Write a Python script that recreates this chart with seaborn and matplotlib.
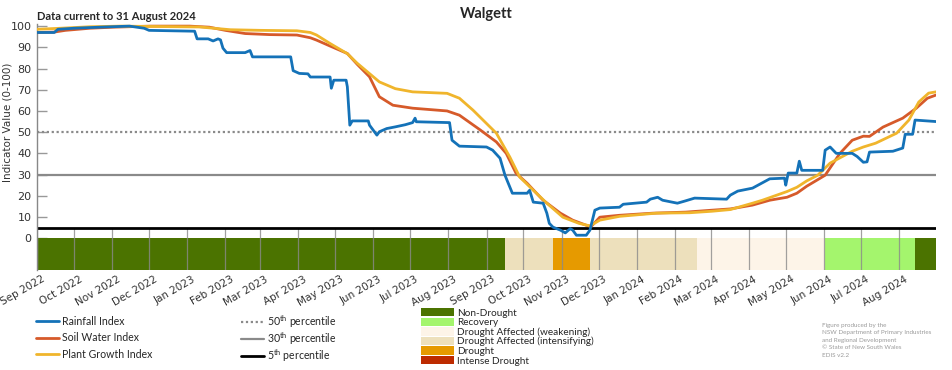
import matplotlib
matplotlib.use('Agg')
import matplotlib.pyplot as plt
import matplotlib.dates as mdates
import matplotlib.transforms as mtransforms
from matplotlib.lines import Line2D
from matplotlib.patches import Patch
import seaborn as sns
import pandas as pd

# Rainfall Index
rain_dates = ["2022-09-01", "2022-09-15", "2022-09-18", "2022-10-01", "2022-10-22", "2022-11-15",
              "2022-11-27", "2022-12-01", "2023-01-07", "2023-01-09", "2023-01-18", "2023-01-22",
              "2023-01-26", "2023-01-28", "2023-01-30", "2023-02-02", "2023-02-17", "2023-02-21",
              "2023-02-23", "2023-03-26", "2023-03-28", "2023-04-02", "2023-04-09", "2023-04-11",
              "2023-04-27", "2023-04-28", "2023-04-30", "2023-05-10", "2023-05-11", "2023-05-13",
              "2023-05-15", "2023-05-28", "2023-05-29", "2023-06-04", "2023-06-06", "2023-06-12",
              "2023-06-19", "2023-06-27", "2023-07-03", "2023-07-05", "2023-07-06", "2023-08-02",
              "2023-08-04", "2023-08-10", "2023-09-01", "2023-09-06", "2023-09-12", "2023-09-16",
              "2023-09-22", "2023-10-04", "2023-10-06", "2023-10-09", "2023-10-17", "2023-10-20",
              "2023-10-22", "2023-10-25", "2023-10-31", "2023-11-04", "2023-11-08", "2023-11-10",
              "2023-11-13", "2023-11-21", "2023-11-24", "2023-11-28", "2023-12-02", "2023-12-18",
              "2023-12-21", "2024-01-09", "2024-01-12", "2024-01-18", "2024-01-22", "2024-02-03",
              "2024-02-09", "2024-02-17", "2024-03-14", "2024-03-17", "2024-03-23", "2024-04-04",
              "2024-04-18", "2024-04-30", "2024-05-01", "2024-05-03", "2024-05-10", "2024-05-12",
              "2024-05-14", "2024-05-31", "2024-06-02", "2024-06-06", "2024-06-11", "2024-06-24",
              "2024-06-28", "2024-07-03", "2024-07-06", "2024-07-08", "2024-07-27", "2024-08-04",
              "2024-08-06", "2024-08-12", "2024-08-14", "2024-08-31"]
rain_vals = [97, 97, 98.5, 99, 99.5, 100, 99, 98, 97.6, 94, 94, 93, 94, 93.5, 89.6, 87.5, 87.5, 88.5,
             85.5, 85.5, 79, 77.7, 77.5, 76, 76, 70.7, 74.5, 74.5, 71.4, 53.3, 55.3, 55.3, 53.3, 48.6,
             50.2, 51.7, 52.5, 53.5, 54.5, 56.6, 54.9, 54.5, 46.2, 43.4, 43, 41.5, 37.7, 29.7, 21.2,
             21.2, 22.6, 17, 16.5, 11.8, 7, 5.2, 3.8, 2.5, 4.5, 3.8, 1.4, 1.4, 3.8, 13.2, 14.2, 14.6,
             16, 17, 18.4, 19.3, 17.9, 16.5, 17.5, 18.9, 18.4, 20.3, 22.2, 23.6, 28, 28.3, 25, 30.7,
             30.7, 36.3, 32, 32, 41.5, 43, 40, 40, 38.5, 35.8, 36, 40.6, 41, 42.5, 49, 49, 55.7, 55]

# Soil Water Index
soil_dates = ["2022-09-01", "2022-09-15", "2022-09-24", "2022-10-14", "2022-11-02", "2022-12-02",
              "2023-01-03", "2023-01-19", "2023-02-01", "2023-02-17", "2023-03-09", "2023-03-31",
              "2023-04-11", "2023-04-16", "2023-04-27", "2023-05-11", "2023-05-19", "2023-05-29",
              "2023-06-06", "2023-06-17", "2023-07-03", "2023-07-31", "2023-08-10", "2023-08-27",
              "2023-09-09", "2023-09-17", "2023-09-25", "2023-10-04", "2023-10-17", "2023-10-31",
              "2023-11-10", "2023-11-21", "2023-11-25", "2023-12-02", "2023-12-18", "2024-01-14",
              "2024-02-10", "2024-03-02", "2024-03-17", "2024-04-04", "2024-04-18", "2024-05-02",
              "2024-05-10", "2024-05-18", "2024-05-29", "2024-06-02", "2024-06-14", "2024-06-24",
              "2024-07-03", "2024-07-08", "2024-07-19", "2024-08-04", "2024-08-15", "2024-08-24",
              "2024-08-31"]
soil_vals = [97, 97.2, 98, 99, 99.5, 100, 100, 99.5, 98, 96.5, 96, 95.8, 94.5, 93.4, 90.6, 87.1, 82,
             76.1, 66.7, 62.7, 61.3, 60, 58, 51, 45.4, 40, 30.6, 25.9, 17.9, 11.8, 8.5, 6.1, 5.5, 9.9,
             10.8, 11.8, 12.3, 13.2, 13.8, 15.6, 17.9, 19.3, 21.2, 24.5, 28.3, 29.7, 40, 46.2, 48.1,
             48, 52.4, 56.6, 61.3, 66, 67.5]

# Plant Growth Index
plant_dates = ["2022-09-01", "2022-09-20", "2022-10-14", "2022-11-08", "2023-01-11", "2023-02-05",
               "2023-03-02", "2023-03-31", "2023-04-11", "2023-04-16", "2023-04-27", "2023-05-11",
               "2023-05-19", "2023-06-06", "2023-06-19", "2023-07-03", "2023-07-31", "2023-08-10",
               "2023-08-21", "2023-09-09", "2023-09-20", "2023-09-28", "2023-10-09", "2023-10-20",
               "2023-11-02", "2023-11-15", "2023-11-24", "2023-12-02", "2023-12-18", "2024-01-17",
               "2024-02-13", "2024-03-02", "2024-03-17", "2024-04-04", "2024-04-12", "2024-05-02",
               "2024-05-10", "2024-05-18", "2024-05-27", "2024-06-06", "2024-06-24", "2024-07-03",
               "2024-07-13", "2024-07-30", "2024-08-09", "2024-08-17", "2024-08-25", "2024-08-31"]
plant_vals = [98.5, 99, 99.7, 100, 99.6, 98.3, 98, 97.8, 97, 95.8, 91.8, 87, 82.5, 73.7, 70.5, 69,
              68.3, 66, 60.4, 49.5, 38.2, 28.8, 22.6, 16.5, 9.9, 7, 5.8, 8.5, 10.3, 11.8, 12, 12.7,
              13.5, 16.5, 17.9, 22, 24, 27, 29.7, 35.4, 41, 43, 44.8, 49.5, 55.7, 64.2, 68.4, 69]

# drought category band
band_starts = ["2022-09-01", "2023-09-16", "2023-10-25", "2023-11-24", "2024-02-19", "2024-06-02", "2024-08-14"]
band_ends = ["2023-09-16", "2023-10-25", "2023-11-24", "2024-02-19", "2024-06-02", "2024-08-14", "2024-09-01"]
band_states = ["Non-Drought", "Drought Affected (intensifying)", "Drought",
               "Drought Affected (intensifying)", "Drought Affected (weakening)", "Recovery", "Non-Drought"]

state_names = ["Non-Drought", "Recovery", "Drought Affected (weakening)",
               "Drought Affected (intensifying)", "Drought", "Intense Drought"]
state_colors = ["#4b7300", "#a4f56d", "#fdf4e8", "#ede0bc", "#e69a00", "#bd2b00"]

series_names = ["Rainfall Index", "Soil Water Index", "Plant Growth Index"]
series_colors = ["#1472b8", "#d65a2a", "#f0b52c"]

pct_levels = [50, 30, 5]
pct_labels = [r"50$^{\mathrm{th}}$ percentile", r"30$^{\mathrm{th}}$ percentile", r"5$^{\mathrm{th}}$ percentile"]

sns.set_theme(style="white")
plt.rcParams['font.family'] = ['DejaVu Sans']
plt.rcParams['mathtext.fontset'] = 'custom'
plt.rcParams['mathtext.rm'] = 'Lato'

fig = plt.figure(figsize=(9.52, 3.70), dpi=100)
ax = fig.add_axes([37 / 952, 1 - 270 / 370, 899 / 952, 246 / 370])

# band
color_map = dict(zip(state_names, state_colors))
for s, e, st in zip(band_starts, band_ends, band_states):
    s, e = pd.Timestamp(s), pd.Timestamp(e)
    ax.bar(s, 15, bottom=-15, width=(e - s).days, align='edge', color=color_map[st], linewidth=0, zorder=1)

months = pd.date_range("2022-09-01", "2024-08-01", freq="MS")
ax.vlines(months, -15, 5, color="#8a8a8a", lw=0.9, alpha=0.8, zorder=2)

# percentile lines
ax.axhline(pct_levels[0], color="#8a8a8a", lw=1.6, ls=(0, (1, 1.2)), zorder=2)
ax.axhline(pct_levels[1], color="#8a8a8a", lw=1.6, zorder=2)
ax.axhline(pct_levels[2], color="black", lw=2.0, zorder=2)

# index lines
for name, d, v, c in [(series_names[0], rain_dates, rain_vals, series_colors[0]),
                      (series_names[1], soil_dates, soil_vals, series_colors[1]),
                      (series_names[2], plant_dates, plant_vals, series_colors[2])]:
    df = pd.DataFrame({"date": pd.to_datetime(d), "value": v})
    sns.lineplot(data=df, x="date", y="value", ax=ax, color=c, lw=2.0, estimator=None, zorder=4)
# blue on top
ax.lines[-3].set_zorder(5)

ax.set_xlim(pd.Timestamp("2022-09-01"), pd.Timestamp("2024-08-31"))
ax.set_ylim(-15, 101)
ax.set_yticks(range(0, 101, 10))
ax.set_yticks([-7.5], minor=True)
ax.tick_params(axis='y', which='both', direction='in', length=7, width=1, color="#999999",
               labelsize=8, labelcolor="#333333", pad=4, left=True)
ax.set_xticks(months)
ax.xaxis.set_major_formatter(mdates.DateFormatter("%b %Y"))
ax.tick_params(axis='x', length=0, labelsize=7.5, labelcolor="#333333", pad=3)
shift = mtransforms.ScaledTranslation(5 / 100, 0, fig.dpi_scale_trans)
for lbl in ax.get_xticklabels():
    lbl.set_rotation(30)
    lbl.set_ha('right')
    lbl.set_rotation_mode('anchor')
    lbl.set_transform(lbl.get_transform() + shift)
ax.set_xlabel("")
ax.set_ylabel("Indicator Value (0-100)", fontsize=7.5, color="#333333")
ax.yaxis.set_label_coords(-0.027, 0.6)
for sp in ["top", "right", "bottom"]:
    ax.spines[sp].set_visible(False)
ax.spines["left"].set_color("#888888")
ax.spines["left"].set_linewidth(1)
ax.grid(False)

fig.text(486.5 / 952, 1 - 14 / 370, "Walgett", ha='center', va='center', fontsize=10.5,
         fontweight='bold', family=['Lato', 'DejaVu Sans'])
fig.text(37 / 952, 1 - 17 / 370, "Data current to 31 August 2024", ha='left', va='center',
         fontsize=8, fontweight='bold', family=['Lato', 'DejaVu Sans'])

leg_font = {"family": "Lato", "size": 7.6}
h1 = [Line2D([], [], color=c, lw=2) for c in series_colors]
fig.legend(h1, series_names, loc='upper left', bbox_to_anchor=(36 / 952, 1 - 316 / 370),
           frameon=False, prop=leg_font, handlelength=2.2, handletextpad=0.25,
           labelspacing=0.5, borderpad=0, borderaxespad=0)

h2 = [Line2D([], [], color="#8a8a8a", lw=1.6, ls=(0, (1, 1.2))),
      Line2D([], [], color="#8a8a8a", lw=1.6),
      Line2D([], [], color="black", lw=2)]
fig.legend(h2, pct_labels, loc='upper left', bbox_to_anchor=(241 / 952, 1 - 313 / 370),
           frameon=False, prop=leg_font, handlelength=2.2, handletextpad=0.25,
           labelspacing=0.05, borderpad=0, borderaxespad=0)

h3 = [Patch(facecolor=c, edgecolor='none') for c in state_colors]
fig.legend(h3, state_names, loc='upper left', bbox_to_anchor=(421 / 952, 1 - 308 / 370),
           frameon=False, prop={"family": "Lato", "size": 7.2}, handlelength=3.3, handleheight=0.9,
           handletextpad=0.3, labelspacing=0.0, borderpad=0, borderaxespad=0)

fig.text(822 / 952, 1 - 323 / 370,
         "Figure produced by the\nNSW Department of Primary Industries\nand Regional Development\n"
         "\u00a9 State of New South Wales\nEDIS v2.2",
         ha='left', va='top', fontsize=4.5, color="#9a9a9a", linespacing=1.6,
         family=['Lato', 'DejaVu Sans'])

fig.savefig("out.png", dpi=100)
